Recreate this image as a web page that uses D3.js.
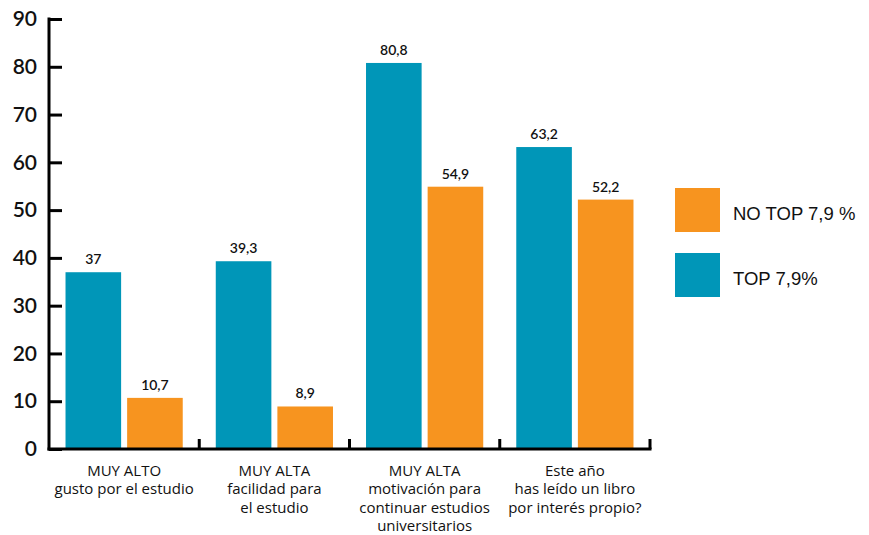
<!DOCTYPE html>
<html><head><meta charset="utf-8">
<script src="https://cdn.jsdelivr.net/npm/d3@7"></script>
<style>html,body{margin:0;padding:0;background:#fff;}svg{display:block;}</style>
</head><body>
<svg id="chart" width="869" height="535"></svg>
<script>
const categories = [
  ["MUY ALTO", "gusto por el estudio"],
  ["MUY ALTA", "facilidad para", "el estudio"],
  ["MUY ALTA", "motivación para", "continuar estudios", "universitarios"],
  ["Este año", "has leído un libro", "por interés propio?"]
];
const seriesNames = ["TOP 7,9%", "NO TOP 7,9 %"];
const topValues = [37, 39.3, 80.8, 63.2];
const noTopValues = [10.7, 8.9, 54.9, 52.2];
const yTicks = [0, 10, 20, 30, 40, 50, 60, 70, 80, 90];
const colors = {"TOP 7,9%": "#0096b8", "NO TOP 7,9 %": "#f7941f"};
const legendOrder = ["NO TOP 7,9 %", "TOP 7,9%"];

const svg = d3.select("#chart");
const font = "Lato, 'Open Sans', sans-serif";
const catFont = "'Open Sans', Lato, sans-serif";
const mLeft = 49, mRight = 650, mTop = 19, mBottom = 449;

const x0 = d3.scaleBand().domain(d3.range(categories.length)).range([mLeft, mRight]).padding(0);
const x1 = d3.scaleBand().domain(seriesNames).range([0, x0.bandwidth()]).paddingInner(0.0976).paddingOuter(0.268);
const y = d3.scaleLinear().domain([0, 90]).range([mBottom, mTop]);

const data = categories.map((c, i) => ({i, vals: [
  {s: seriesNames[0], v: topValues[i]},
  {s: seriesNames[1], v: noTopValues[i]}
]}));

const fmt = v => String(v).replace(".", ",");

const g = svg.append("g");
const groups = g.selectAll("g.grp").data(data).join("g")
  .attr("transform", d => `translate(${x0(d.i)},0)`);
groups.selectAll("rect").data(d => d.vals).join("rect")
  .attr("x", d => x1(d.s)).attr("width", x1.bandwidth())
  .attr("y", d => y(d.v)).attr("height", d => y(0) - y(d.v))
  .attr("fill", d => colors[d.s]);
groups.selectAll("text.val").data(d => d.vals).join("text")
  .attr("class", "val")
  .attr("x", d => x1(d.s) + x1.bandwidth() / 2)
  .attr("y", d => y(d.v) - 8)
  .attr("text-anchor", "middle")
  .attr("font-family", font).attr("font-size", 14).attr("font-weight", 600)
  .attr("fill", "#111")
  .text(d => fmt(d.v));

// Y axis
const yAxis = d3.axisLeft(y).tickValues(yTicks).tickSize(-13).tickPadding(25);
const ya = svg.append("g").attr("transform", `translate(${mLeft},0)`).call(yAxis);
ya.select(".domain").remove();
ya.selectAll(".tick line").attr("stroke", "#000").attr("stroke-width", 3);
ya.selectAll(".tick text").attr("font-family", font).attr("font-size", 21).attr("font-weight", 600).attr("fill", "#111").attr("x", -12);
svg.append("line").attr("x1", mLeft).attr("x2", mLeft).attr("y1", y(90) - 1.5).attr("y2", y(0) + 1.5)
  .attr("stroke", "#000").attr("stroke-width", 3);

// X axis
const boundaries = d3.range(categories.length).map(i => x0(i) + x0.bandwidth());
svg.append("line").attr("x1", mLeft - 1.5).attr("x2", mRight + 1.5).attr("y1", y(0)).attr("y2", y(0))
  .attr("stroke", "#000").attr("stroke-width", 3);
svg.selectAll("line.xt").data(boundaries).join("line").attr("class", "xt")
  .attr("x1", d => d).attr("x2", d => d).attr("y1", y(0)).attr("y2", y(0) - 10)
  .attr("stroke", "#000").attr("stroke-width", 3);

// Category labels
const cl = svg.selectAll("text.cat").data(categories).join("text").attr("class", "cat")
  .attr("text-anchor", "middle")
  .attr("font-family", catFont).attr("font-size", 15).attr("fill", "#111");
cl.selectAll("tspan").data((d, i) => d.map(t => ({t, i}))).join("tspan")
  .attr("x", d => x0(d.i) + x0.bandwidth() / 2)
  .attr("y", (d, j) => 476 + j * 18.3)
  .text(d => d.t);

// Legend
const lg = svg.selectAll("g.leg").data(legendOrder).join("g").attr("class", "leg")
  .attr("transform", (d, i) => `translate(675,${188 + i * 65})`);
lg.append("rect").attr("width", 45).attr("height", 44).attr("fill", d => colors[d]);
lg.append("text").attr("x", 58).attr("y", 32).attr("font-family", "'Liberation Sans', Arial, sans-serif")
  .attr("font-size", 18.5).attr("fill", "#111").text(d => d);
</script>
</body></html>
